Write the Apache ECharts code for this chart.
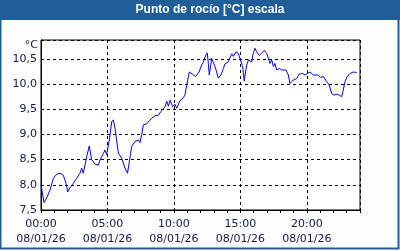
<!DOCTYPE html>
<html>
<head>
<meta charset="utf-8">
<script src="https://cdn.jsdelivr.net/npm/echarts@6/dist/echarts.min.js"></script>
<style>html,body{margin:0;padding:0;background:#fcfdfc;}#c{width:400px;height:250px;}</style>
</head>
<body>
<div id="c"></div>
<script>
var titleText = 'Punto de rocío [°C] escala';
var unitText = '°C';
var dateText = '08/01/26';
var hours = [0,0.23,0.43,0.68,0.93,1.18,1.43,1.58,1.68,1.88,2.01,2.18,2.43,2.69,2.93,3.06,3.18,3.31,3.44,3.63,3.81,3.93,4.06,4.31,4.44,4.69,4.81,4.94,5.14,5.32,5.44,5.57,5.82,6.07,6.32,6.51,6.73,6.82,7.07,7.32,7.45,7.58,7.70,7.82,7.95,8.15,8.33,8.58,8.83,9.01,9.16,9.33,9.46,9.58,9.71,9.91,10.08,10.21,10.46,10.71,10.83,10.96,11.16,11.38,11.63,11.89,12.09,12.21,12.29,12.41,12.51,12.59,12.66,12.77,12.84,12.96,13.09,13.34,13.54,13.72,13.84,14.09,14.35,14.47,14.67,14.84,14.97,15.08,15.17,15.29,15.39,15.50,15.61,15.72,15.85,15.97,16.10,16.23,16.42,16.60,16.80,16.98,17.23,17.36,17.48,17.60,17.73,17.93,18.11,18.43,18.61,18.73,18.86,18.98,19.24,19.43,19.69,19.86,20.03,20.24,20.49,20.86,21.04,21.24,21.49,21.69,21.87,22.04,22.25,22.44,22.62,22.74,22.87,23.04,23.25,23.50,23.75];
var dewPoint = [8.00,7.65,7.74,7.90,8.13,8.21,8.23,8.26,8.19,8.03,7.86,7.94,8.03,8.13,8.23,8.33,8.23,8.39,8.56,8.77,8.50,8.46,8.41,8.39,8.49,8.62,8.69,8.60,8.89,9.25,9.29,9.12,8.63,8.53,8.33,8.23,8.60,8.76,8.86,8.89,8.84,9.00,9.19,9.21,9.21,9.27,9.32,9.37,9.38,9.45,9.43,9.55,9.66,9.56,9.68,9.55,9.60,9.52,9.67,9.73,9.78,9.98,10.24,10.20,10.15,10.24,10.38,10.44,10.41,10.58,10.62,10.41,10.18,10.38,10.51,10.54,10.35,10.12,10.18,10.31,10.40,10.44,10.60,10.55,10.64,10.61,10.51,10.48,10.35,10.06,10.24,10.40,10.48,10.51,10.44,10.61,10.71,10.64,10.57,10.61,10.67,10.61,10.41,10.48,10.35,10.41,10.28,10.31,10.28,10.28,10.18,10.01,9.98,10.08,10.11,10.20,10.21,10.18,10.21,10.24,10.18,10.18,10.13,10.15,10.05,9.98,9.81,9.78,9.80,9.78,9.75,9.88,10.05,10.15,10.21,10.24,10.23];
var xTicks = [0,5,10,15,20];
var xTickLabels = ['00:00','05:00','10:00','15:00','20:00'];
var yTicks = [7.5,8.0,8.5,9.0,9.5,10.0,10.5];

var data = hours.map(function(h,i){return [h, dewPoint[i]];});
var font = 'DejaVu Sans';
var txtColor = '#141a40';
var chart = echarts.init(document.getElementById('c'), null, {renderer:'canvas'});
chart.setOption({
  animation:false,
  backgroundColor:'#fcfdfc',
  grid:{left:41,top:40,right:40,bottom:40,show:true,borderColor:'#000',borderWidth:1,backgroundColor:'#ffffff'},
  graphic:[
    {type:'rect',shape:{x:0,y:0,width:400,height:20},style:{fill:'#1f5e99'},z:10},
    {type:'rect',shape:{x:0.5,y:0.5,width:398,height:248},style:{fill:null,stroke:'#1f5e99',lineWidth:2},z:10},
    {type:'text',x:210,y:10,style:{text:titleText,fill:'#ffffff',font:'bold 12px "Liberation Sans"',textAlign:'center',textVerticalAlign:'middle'},z:11},
    {type:'text',x:38,y:45,style:{text:unitText,fill:txtColor,font:'11px "'+font+'"',textAlign:'right',textVerticalAlign:'middle'},z:11}
  ],
  xAxis:[{
    type:'value',min:0,max:24,interval:5,
    axisLine:{show:true,lineStyle:{color:'#000',width:1}},
    axisTick:{show:false},
    splitLine:{show:true,lineStyle:{color:'#000',type:[3,3],width:1}},
    axisLabel:{margin:7,color:txtColor,fontFamily:font,fontSize:11,lineHeight:15,
      formatter:function(v){var i=xTicks.indexOf(v);return i<0?'':xTickLabels[i]+'\n'+dateText;}}
  },{
    type:'value',min:0,max:24,interval:1,position:'bottom',
    axisLine:{show:false},
    axisTick:{show:true,length:3,lineStyle:{color:'#000'}},
    splitLine:{show:false},axisLabel:{show:false}
  }],
  yAxis:{
    type:'value',min:7.5,max:10.875,interval:0.5,
    axisLine:{show:true,lineStyle:{color:'#000'}},
    axisTick:{show:false},
    splitLine:{show:true,lineStyle:{color:'#000',type:[3,3],width:1}},
    axisLabel:{margin:4,color:txtColor,fontFamily:font,fontSize:11,
      formatter:function(v){return yTicks.indexOf(Math.round(v*10)/10)>=0 && Math.abs(v*2-Math.round(v*2))<1e-6 ? v.toFixed(1).replace('.',',') : '';}}
  },
  series:[{type:'line',data:data,xAxisIndex:0,showSymbol:false,symbol:'none',lineStyle:{color:'#0000ff',width:1},z:5}]
});
</script>
</body>
</html>
